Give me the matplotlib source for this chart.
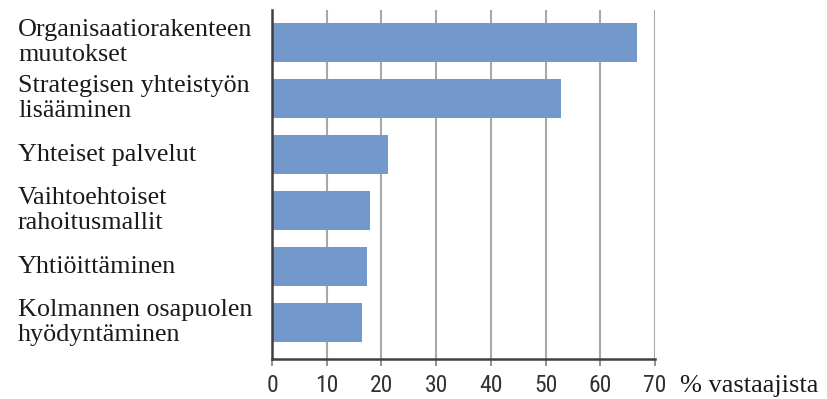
import matplotlib
matplotlib.use("Agg")
import matplotlib.pyplot as plt
import matplotlib.transforms as mtransforms

categories = [
    "Organisaatiorakenteen\nmuutokset",
    "Strategisen yhteistyön\nlisääminen",
    "Yhteiset palvelut",
    "Vaihtoehtoiset\nrahoitusmallit",
    "Yhtiöittäminen",
    "Kolmannen osapuolen\nhyödyntäminen",
]
values = [66.7, 52.8, 21.2, 18.0, 17.3, 16.5]
xticks = [0, 10, 20, 30, 40, 50, 60, 70]
xlabel = "% vastaajista"

W, H = 828, 399
fig = plt.figure(figsize=(W / 100, H / 100), dpi=100)
ax = fig.add_axes([272 / W, (H - 359) / H, (655 - 272) / W, (359 - 10) / H])

bar_color = "#7399cc"
pos = list(range(len(categories)))
ax.barh(pos, values, height=0.70, color=bar_color, zorder=3)

ax.set_xlim(0, 70)
ax.set_ylim(5.65, -0.58)
ax.set_xticks(xticks)
ax.set_xticklabels([str(t) for t in xticks],
                   fontfamily=["Roboto Condensed", "PT Sans Narrow", "DejaVu Sans"],
                   fontsize=17, color="#333333")
ax.set_yticks([])
ax.tick_params(axis="x", length=5, width=1.2, color="#808080", pad=6)

ax.grid(axis="x", color="#a8a8a8", linewidth=1.5, zorder=0)
for s in ["top", "right"]:
    ax.spines[s].set_visible(False)
for s in ["left", "bottom"]:
    ax.spines[s].set_color("#404040")
    ax.spines[s].set_linewidth(1.8)
    ax.spines[s].set_zorder(4)

trans = mtransforms.blended_transform_factory(fig.transFigure, ax.transData)
for i, lab in enumerate(categories):
    ax.text(18 / W, i, lab, transform=trans, ha="left", va="center",
            fontfamily="Liberation Serif", fontsize=18.8, linespacing=1.2,
            color="#1a1a1a")

fig.text(680 / W, (H - 392) / H, xlabel, ha="left", va="baseline",
         fontfamily="Liberation Serif", fontsize=19, color="#1a1a1a")

fig.savefig("out.png", dpi=100)
